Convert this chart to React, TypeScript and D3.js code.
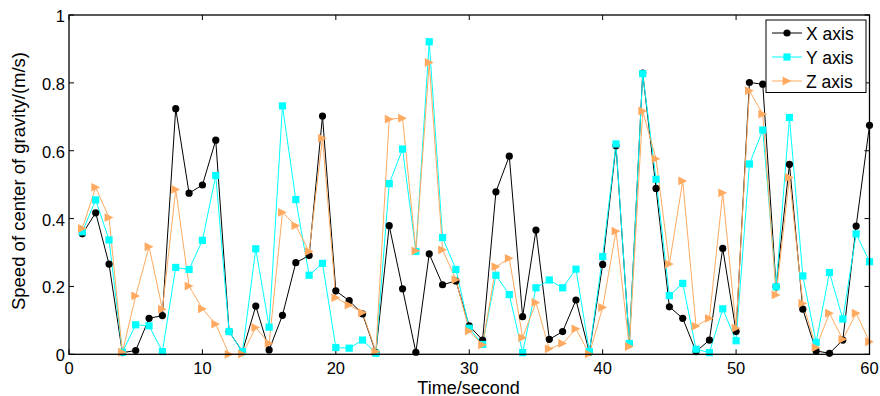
import * as d3 from "d3";
import { useEffect, useRef } from "react";

// Speed of center of gravity per second, three axes
const TIME = d3.range(1, 61);

const X_AXIS = [
  0.355, 0.417, 0.266, 0.005, 0.011, 0.106, 0.114, 0.724, 0.475, 0.499,
  0.631, 0.067, 0.008, 0.142, 0.013, 0.115, 0.270, 0.291, 0.702, 0.187,
  0.158, 0.119, 0.005, 0.379, 0.193, 0.006, 0.296, 0.205, 0.216, 0.084,
  0.042, 0.479, 0.584, 0.111, 0.366, 0.044, 0.067, 0.160, 0.006, 0.265,
  0.615, 0.032, 0.829, 0.489, 0.140, 0.106, 0.008, 0.042, 0.312, 0.067,
  0.801, 0.796, 0.199, 0.560, 0.133, 0.010, 0.003, 0.042, 0.378, 0.675,
];

const Y_AXIS = [
  0.361, 0.455, 0.337, 0.006, 0.087, 0.084, 0.008, 0.256, 0.250, 0.336,
  0.527, 0.067, 0.008, 0.311, 0.080, 0.732, 0.456, 0.233, 0.268, 0.020,
  0.018, 0.042, 0.003, 0.503, 0.605, 0.303, 0.921, 0.344, 0.250, 0.077,
  0.029, 0.233, 0.176, 0.005, 0.196, 0.219, 0.196, 0.251, 0.008, 0.288,
  0.620, 0.032, 0.827, 0.516, 0.173, 0.209, 0.015, 0.005, 0.134, 0.040,
  0.561, 0.661, 0.199, 0.698, 0.231, 0.035, 0.241, 0.104, 0.355, 0.273,
];

const Z_AXIS = [
  0.371, 0.492, 0.403, 0.006, 0.172, 0.317, 0.133, 0.486, 0.201, 0.134,
  0.089, 0.000, 0.001, 0.079, 0.032, 0.418, 0.379, 0.303, 0.637, 0.167,
  0.145, 0.123, 0.008, 0.693, 0.696, 0.305, 0.860, 0.308, 0.220, 0.069,
  0.028, 0.258, 0.283, 0.049, 0.153, 0.016, 0.032, 0.075, 0.001, 0.138,
  0.363, 0.023, 0.717, 0.576, 0.266, 0.511, 0.083, 0.106, 0.476, 0.077,
  0.777, 0.708, 0.175, 0.521, 0.150, 0.020, 0.121, 0.044, 0.121, 0.037,
];

const SERIES = [
  { name: "X axis", values: X_AXIS, color: "#000000", marker: "circle" },
  { name: "Y axis", values: Y_AXIS, color: "#00FFFF", marker: "square" },
  { name: "Z axis", values: Z_AXIS, color: "#FFAA60", marker: "triangle" },
];

const X_TICKS = [0, 10, 20, 30, 40, 50, 60];
const Y_TICKS = [0, 0.2, 0.4, 0.6, 0.8, 1];

const W = 880;
const H = 396;
const FONT = "'Liberation Sans', Arial, sans-serif";

function drawMarker(
  g: d3.Selection<SVGGElement, unknown, null, undefined>,
  kind: string,
  x: number,
  y: number,
  color: string,
) {
  if (kind === "circle") {
    g.append("circle").attr("cx", x).attr("cy", y).attr("r", 3.6).attr("fill", color);
  } else if (kind === "square") {
    g.append("rect")
      .attr("x", x - 3.6).attr("y", y - 3.6)
      .attr("width", 7.2).attr("height", 7.2)
      .attr("fill", color);
  } else {
    // right-pointing triangle
    const s = 4.4;
    g.append("polygon")
      .attr("points", `${x + s},${y} ${x - s},${y - s} ${x - s},${y + s}`)
      .attr("fill", color);
  }
}

function SpeedChart() {
  const ref = useRef<SVGSVGElement>(null);

  useEffect(() => {
    if (!ref.current) return;
    const svg = d3.select(ref.current);
    svg.selectAll("*").remove();

    const left = 69, right = 869.5, top = 15, bottom = 354.3;
    const x = d3.scaleLinear().domain([0, 60]).range([left, right]);
    const y = d3.scaleLinear().domain([0, 1]).range([bottom, top]);

    svg.append("rect").attr("width", W).attr("height", H).attr("fill", "#fff");

    const tickLen = 5;
    const axes = svg.append("g").attr("stroke", "#000").attr("stroke-width", 1);
    // MATLAB-style inward ticks on all four sides
    X_TICKS.forEach((t) => {
      const px = x(t);
      axes.append("line").attr("x1", px).attr("x2", px).attr("y1", bottom).attr("y2", bottom - tickLen);
      axes.append("line").attr("x1", px).attr("x2", px).attr("y1", top).attr("y2", top + tickLen);
    });
    Y_TICKS.forEach((t) => {
      const py = y(t);
      axes.append("line").attr("x1", left).attr("x2", left + tickLen).attr("y1", py).attr("y2", py);
      axes.append("line").attr("x1", right).attr("x2", right - tickLen).attr("y1", py).attr("y2", py);
    });

    // series lines + markers
    SERIES.forEach((s) => {
      const line = d3.line<number>()
        .x((_, i) => x(TIME[i]))
        .y((d) => y(d));
      svg.append("path")
        .attr("d", line(s.values))
        .attr("fill", "none")
        .attr("stroke", s.color)
        .attr("stroke-width", 1);
    });
    SERIES.forEach((s) => {
      const g = svg.append("g");
      s.values.forEach((v, i) => drawMarker(g, s.marker, x(TIME[i]), y(v), s.color));
    });

    // box
    svg.append("rect")
      .attr("x", left).attr("y", top)
      .attr("width", right - left).attr("height", bottom - top)
      .attr("fill", "none").attr("stroke", "#000").attr("stroke-width", 1.3);

    // tick labels
    const labels = svg.append("g").attr("font-family", FONT).attr("font-size", 16.5).attr("fill", "#000");
    X_TICKS.forEach((t) => {
      labels.append("text")
        .attr("x", x(t)).attr("y", bottom + 19.5)
        .attr("text-anchor", "middle")
        .text(t);
    });
    Y_TICKS.forEach((t) => {
      labels.append("text")
        .attr("x", left - 4).attr("y", y(t) + 7)
        .attr("text-anchor", "end")
        .text(t);
    });

    // axis titles
    labels.append("text")
      .attr("x", 468.5).attr("y", 393.5)
      .attr("font-size", 18)
      .attr("text-anchor", "middle")
      .text("Time/second");
    labels.append("text")
      .attr("transform", `translate(25,181) rotate(-90)`)
      .attr("font-size", 18.5)
      .attr("text-anchor", "middle")
      .text("Speed of center of gravity/(m/s)");

    // legend
    const lg = svg.append("g");
    lg.append("rect")
      .attr("x", 766).attr("y", 20)
      .attr("width", 100).attr("height", 72.5)
      .attr("fill", "#fff").attr("stroke", "#000").attr("stroke-width", 1);
    SERIES.forEach((s, i) => {
      const ly = 33 + i * 24;
      lg.append("line")
        .attr("x1", 772).attr("x2", 802).attr("y1", ly).attr("y2", ly)
        .attr("stroke", s.color).attr("stroke-width", 1);
      drawMarker(lg, s.marker, 787, ly, s.color);
      lg.append("text")
        .attr("x", 806).attr("y", ly + 6.5)
        .attr("font-family", FONT).attr("font-size", 17.5)
        .text(s.name);
    });
  }, []);

  return <svg ref={ref} width={W} height={H} style={{ display: "block" }} />;
}

export default function App() {
  return (
    <div style={{ position: "absolute", left: 0, top: 0 }}>
      <SpeedChart />
    </div>
  );
}
